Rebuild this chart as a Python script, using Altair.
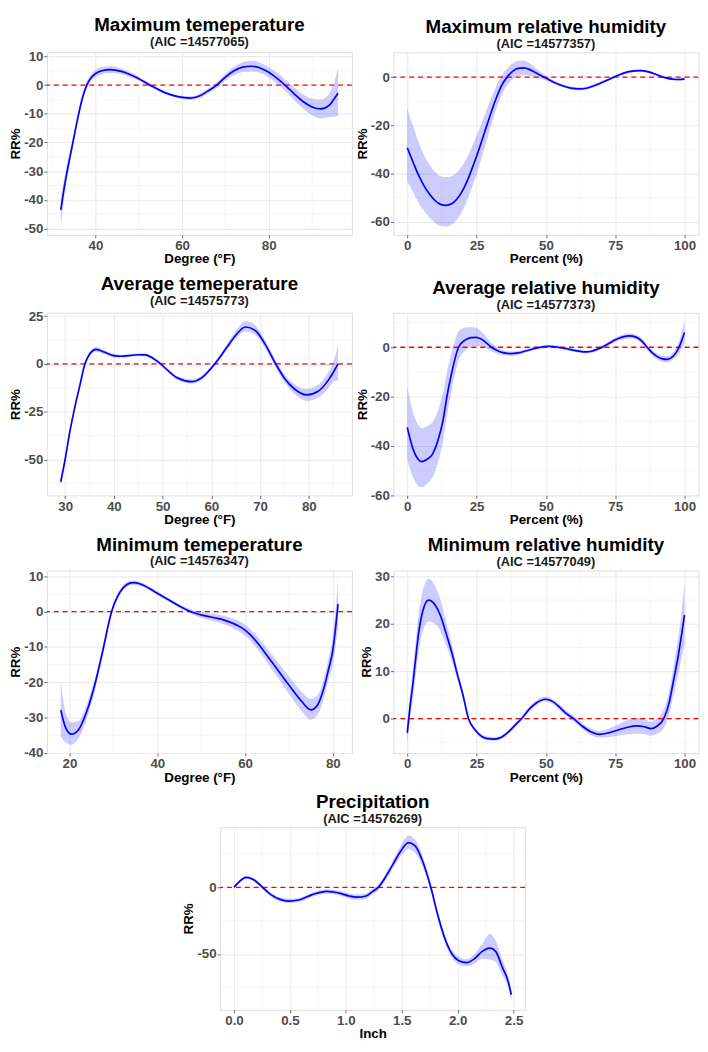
import altair as alt
import pandas as pd

FONT = "Liberation Sans"

# ---------------- Panel 1: Maximum temeperature ----------------
p1_x = [32, 33, 34, 35, 36, 37, 38, 39, 40, 41.5, 43.4, 46, 49, 52.6, 56, 59, 61.8, 64, 66, 68,
        70, 72, 74, 76, 78, 80, 82, 84, 86, 88, 90, 92, 94, 95, 96]
p1_y = [-43.5, -34, -26, -18.5, -11, -4.5, 0, 2.6, 4, 5, 5.4, 4.8, 3, 0, -2.6, -4, -4.5, -3.8, -2, 0,
        2.8, 5, 6.3, 6.6, 6, 4.5, 2.3, -0.3, -3.2, -5.8, -7.6, -8.3, -7, -5, -2.8]
p1_lo = [-49.3, -37.2, -28.3, -20.3, -12.4, -5.7, -1.1, 1.5, 2.8, 3.8, 4.2, 3.8, 2.2, -0.6, -3.1, -4.5, -5.1, -4.5, -2.8, -1.0,
         1.6, 3.5, 4.6, 4.8, 4.2, 2.7, 0.4, -2.3, -5.4, -8.3, -10.5, -11.6, -11.2, -11.0, -10.8]
p1_hi = [-39.5, -30.8, -23.7, -16.7, -9.6, -3.3, 1.1, 3.7, 5.2, 6.2, 6.6, 5.8, 3.8, 0.6, -2.1, -3.5, -3.9, -3.1, -1.2, 1.0,
         4.0, 6.5, 8.0, 8.6, 7.8, 6.3, 4.2, 1.7, -1.0, -3.3, -4.7, -5.0, -2.8, 0.5, 6.2]

# ---------------- Panel 2: Maximum relative humidity ----------------
p2_x = [0, 2, 4, 6, 8, 10, 12, 14, 16, 18, 20, 22, 24, 26, 28, 30, 32, 34, 36, 38, 40, 42, 44, 46, 48, 50,
        53, 56, 59, 62, 65, 68, 71, 74, 77, 80, 84, 87, 90, 93, 96, 98, 100]
p2_y = [-29.3, -35, -40.5, -45, -48.5, -51.2, -52.8, -53.2, -52.6, -50.5, -47, -42, -36, -29.5, -22.5, -15.5, -9, -3.5, 0,
        2.4, 3.6, 3.8, 3.2, 2, 0.8, -0.4, -2.2, -3.6, -4.6, -4.9, -4.5, -3.3, -1.8, -0.3, 1.2, 2.3, 2.7, 2.2, 1, -0.2,
        -0.9, -1, -0.7]
p2_lo = [-43.2, -47.5, -52, -55.5, -58.3, -60.4, -61.7, -62, -61.3, -59, -55.3, -50, -43.7, -36.7, -29, -21.1, -13.8, -7.5,
         -3.5, -0.8, 0.5, 0.8, 0.6, 0, -0.6, -1.4, -2.9, -4.2, -5.2, -5.5, -5.1, -3.9, -2.4, -0.9, 0.7, 1.8, 2.2, 1.7, 0.5,
         -0.7, -1.4, -1.5, -1.2]
p2_hi = [-13, -20, -26.7, -32.2, -36.3, -39.4, -41.1, -41.5, -41.1, -39.5, -36.5, -32.2, -27, -21.5, -15.5, -9.5, -4, 0.7,
         3.6, 5.7, 6.8, 6.9, 5.9, 4, 2.2, 0.6, -1.5, -3, -4, -4.3, -3.9, -2.7, -1.2, 0.3, 1.7, 2.8, 3.2, 2.7, 1.5, 0.3,
         -0.4, -0.5, -0.2]

# ---------------- Panel 3: Average temeperature ----------------
p3_x = [29.1, 30, 31, 32, 33, 34, 35, 36.4, 38, 40, 41.5, 43, 45, 46.5, 48, 49.6, 51, 53, 55.9, 58, 60.7, 63, 65, 67,
        69, 71, 73.2, 75, 77, 79.6, 82, 84, 85, 86]
p3_y = [-61.7, -50, -35, -22.5, -11.5, -0.5, 5, 7.6, 6.2, 4.3, 4, 4.3, 4.8, 4.7, 3, 0, -3.3, -7.3, -9.3, -7.3, 0, 8, 15,
        19.3, 17.5, 10.5, 0, -7.5, -13, -16.2, -14.2, -8.5, -4.5, 0]
p3_lo = [-64.5, -52, -36.6, -23.6, -12.4, -1.6, 3.8, 6.3, 5.2, 3.4, 3.2, 3.5, 4, 3.9, 2.2, -0.8, -4.1, -8.2, -10.4, -8.4,
         -1.1, 6.5, 13.1, 17, 15.3, 8.5, -1.9, -9.6, -15.5, -19.4, -17.6, -12.7, -9.5, -8.5]
p3_hi = [-59, -48, -33.4, -21.4, -10.6, 0.6, 6.2, 8.9, 7.2, 5.2, 4.8, 5.1, 5.6, 5.5, 3.8, 0.8, -2.5, -6.4, -8.2, -6.2,
         1.1, 9.5, 17.2, 22.4, 20.2, 12.5, 1.9, -5.4, -10.5, -13, -10.8, -4.3, 0.7, 9.7]

# ---------------- Panel 4: Average relative humidity ----------------
p4_x = [0, 2, 4, 5.3, 7, 9, 11, 13, 14.3, 16, 18.5, 21, 23, 24.8, 26.5, 28.5, 30.4, 33, 35, 37.4, 40, 43, 46, 48.5,
        50.9, 54, 57, 60, 62, 64.3, 66.5, 68.5, 70.2, 72.5, 75, 77.5, 80.1, 82.5, 84.5, 86.5, 88.5, 90.5, 92, 93.6,
        95, 96.5, 98, 99, 100]
p4_y = [-32.5, -41, -45.5, -46.4, -45.5, -43.5, -38, -29, -20, -10.5, 0, 3, 3.9, 4.0, 3.4, 1.8, 0, -1.6, -2.3, -2.6,
        -2.3, -1.4, -0.5, 0.1, 0.4, 0.1, -0.5, -1.2, -1.6, -1.9, -1.6, -0.8, 0, 1.4, 3, 4.1, 4.6, 4.1, 2.6, 0, -2.4,
        -4, -4.7, -4.9, -4.4, -2.8, 0, 2.8, 6.0]
p4_lo = [-45.4, -52.5, -56.3, -56.7, -55.5, -53, -47, -37.3, -27.8, -17.5, -5.5, -1.3, 0.3, 0.5, 0.4, -0.4, -1.7, -2.8,
         -3.3, -3.5, -3.1, -2.0, -1.1, -0.5, -0.2, -0.5, -1.1, -1.8, -2.2, -2.5, -2.2, -1.5, -0.7, 0.6, 2.1, 3.1, 3.6,
         3.1, 1.6, -1, -3.5, -5.1, -5.9, -6.1, -5.7, -4.3, -2.3, -0.4, 1.7]
p4_hi = [-15.9, -26, -31.5, -32.8, -32.1, -30.5, -25.8, -18, -10, -2, 6.5, 8, 8.1, 7.9, 6.6, 4.2, 1.8, -0.4, -1.3,
         -1.7, -1.5, -0.8, 0.1, 0.7, 1.0, 0.7, 0.1, -0.6, -1.0, -1.3, -1.0, -0.1, 0.7, 2.2, 3.9, 5.1, 5.6, 5.1, 3.6, 1,
         -1.3, -2.9, -3.5, -3.7, -3.1, -1.3, 2.3, 6, 10.6]

# ---------------- Panel 5: Minimum temeperature ----------------
p5_x = [18, 19, 20.4, 22, 24, 25.8, 27.5, 29.6, 31.5, 33, 34.5, 36, 38, 40, 42.5, 45, 46.9, 49, 51, 54, 57, 59, 61,
        63, 65, 67.5, 70, 72.5, 75, 76.5, 78, 79, 80, 80.6, 81.2]
p5_y = [-27.9, -32.5, -34.7, -33.5, -28, -20.5, -11.5, 0, 5.5, 7.6, 8.2, 7.9, 6.7, 5.2, 3.4, 1.6, 0.4, -0.6, -1.2,
        -2.0, -3.2, -4.4, -6.3, -9.1, -12.4, -16.6, -20.8, -24.8, -27.8, -26.5, -21.5, -16.5, -11, -5, 2.1]
p5_lo = [-35.2, -37, -37.7, -36, -30, -22.1, -12.7, -1, 4.7, 6.9, 7.6, 7.3, 6.2, 4.7, 2.9, 1.1, -0.2, -1.3, -2.1,
         -3.1, -4.5, -5.9, -7.9, -10.9, -14.4, -18.8, -23.3, -27.5, -30.6, -29.3, -24.3, -19.5, -14.8, -10, -4.4]
p5_hi = [-19.5, -28, -31.4, -31, -26, -18.9, -10.3, 1, 6.3, 8.3, 8.8, 8.5, 7.2, 5.7, 3.9, 2.1, 1.0, 0.1, -0.3,
         -0.9, -1.9, -2.9, -4.7, -7.3, -10.4, -14.4, -18.3, -22.1, -24.7, -23.7, -18.7, -13.5, -7.2, 0, 9.3]

# ---------------- Panel 6: Minimum relative humidity ----------------
p6_x = [0, 1, 2, 3, 4, 5.5, 7.7, 10, 12, 14, 16, 18, 20, 22.1, 24.5, 27, 29, 31.4, 34, 36.5, 39, 41.2, 44, 46.5, 49.8,
        52.5, 55, 57.5, 60, 63, 66, 69.4, 72.5, 76, 79.5, 82.7, 85.5, 87.9, 90, 92.5, 94.5, 96, 97.5, 99, 100]
p6_y = [-3, 2.5, 7.2, 12.5, 17.6, 22.5, 25, 24, 21.7, 18, 14.1, 9.5, 5.2, 0, -2.4, -3.8, -4.2, -4.3, -3.9, -2.8, -1.3,
        0, 2, 3.3, 4.1, 3.6, 2.4, 1.0, 0, -1.5, -2.7, -3.3, -3, -2.4, -1.8, -1.5, -1.7, -2.1, -1.6, 0, 3.5, 8, 12.5,
        18, 21.9]
p6_lo = [-5.5, 0, 4.2, 9, 13.6, 18.2, 20.5, 20, 18.4, 15.5, 12.3, 8.3, 4.4, -0.5, -2.8, -4.2, -4.6, -4.7, -4.3, -3.2,
         -1.7, -0.4, 1.5, 2.8, 3.6, 3.1, 1.8, 0.4, -0.6, -2.1, -3.4, -4, -3.9, -3.6, -3.3, -3.2, -3.3, -3.6, -3.2, -2,
         1, 5, 8.7, 13, 15.5]
p6_hi = [-0.5, 5, 10.2, 16, 21.6, 26.8, 29.5, 28, 25, 20.5, 15.9, 10.7, 6, 0.5, -2, -3.4, -3.8, -3.9, -3.5, -2.4, -0.9,
         0.4, 2.5, 3.8, 4.6, 4.1, 3.0, 1.6, 0.6, -0.9, -2.0, -2.6, -2.1, -1.2, -0.3, 0.2, -0.1, -0.6, 0, 2, 6, 11, 16.3,
         23, 28.6]

# ---------------- Panel 7: Precipitation ----------------
p7_x = [0, 0.05, 0.11, 0.18, 0.255, 0.33, 0.41, 0.49, 0.58, 0.7, 0.83, 0.95, 1.03, 1.1, 1.18, 1.24, 1.29, 1.35, 1.42,
        1.49, 1.56, 1.62, 1.68, 1.76, 1.82, 1.88, 1.95, 2.01, 2.08, 2.15, 2.22, 2.29, 2.34, 2.4, 2.45, 2.48]
p7_y = [0, 4.5, 7.4, 5.5, 0, -5.5, -9, -10.3, -9.5, -5.5, -3, -4.5, -6.5, -7.4, -6.5, -3, 0, 7, 17, 27, 33.5, 31, 21,
        0, -20, -37, -50, -55, -56.4, -53.5, -48, -45.6, -48, -60, -70, -80.5]
p7_lo = [-0.8, 3.4, 6.2, 4.2, -1.4, -7, -10.5, -11.8, -11, -7, -4.6, -6.2, -8.4, -9.4, -8.5, -5, -2.1, 4.6, 14, 23.2,
         28.6, 26, 17, -3, -23, -40, -52.8, -57.8, -59.1, -57, -53.5, -54, -56, -66, -74.5, -85.5]
p7_hi = [0.8, 5.6, 8.6, 6.8, 1.4, -4, -7.5, -8.8, -8, -4, -1.4, -2.8, -4.6, -5.4, -4.5, -1, 2.1, 9.4, 20, 30.8, 38.9,
         36, 25, 3, -17, -34, -47.2, -52.2, -53.7, -50, -42.5, -35, -40, -54, -65.5, -77]

# tick label values
deg_ticks_max = [40, 60, 80]
deg_ticks_avg = [30, 40, 50, 60, 70, 80]
deg_ticks_min = [20, 40, 60, 80]
pct_ticks = [0, 25, 50, 75, 100]
inch_ticks = [0.0, 0.5, 1.0, 1.5, 2.0, 2.5]
y1_ticks = [-50, -40, -30, -20, -10, 0, 10]
y2_ticks = [-60, -40, -20, 0]
y3_ticks = [-50, -25, 0, 25]
y4_ticks = [-60, -40, -20, 0]
y5_ticks = [-40, -30, -20, -10, 0, 10]
y6_ticks = [0, 10, 20, 30]
y7_ticks = [-50, 0]

W, H = 309, 185
HGAP, VGAP = 42, 8


def minors(maj, dom):
    step = maj[1] - maj[0]
    cands = [maj[0] - step / 2] + [(a + b) / 2 for a, b in zip(maj[:-1], maj[1:])] + [maj[-1] + step / 2]
    return [c for c in cands if dom[0] <= c <= dom[1]]


def panel(title, aic, xs, ys, lo, hi, xtitle, xmaj, ymaj, xfmt=None):
    df = pd.DataFrame({"x": xs, "y": ys, "lo": lo, "hi": hi})
    xe = (max(xs) - min(xs)) * 0.05
    ye = (max(hi) - min(lo)) * 0.05
    xdom = [min(xs) - xe, max(xs) + xe]
    ydom = [min(lo) - ye, max(hi) + ye]
    xsc = alt.Scale(domain=xdom, nice=False, zero=False)
    ysc = alt.Scale(domain=ydom, nice=False, zero=False)
    common = dict(grid=True, gridColor="#EBEBEB", gridWidth=1.1, domain=False, ticks=True,
                  tickColor="#666666", tickSize=3, labelFont=FONT, labelFontSize=13.5,
                  labelFontWeight="bold", labelColor="#4D4D4D", titleFont=FONT, titleFontSize=13.5,
                  titleFontWeight="bold", titleColor="#000000", labelPadding=1)
    xkw = dict(values=xmaj, title=xtitle, titlePadding=0, labelFlush=False, **common)
    if xfmt:
        xkw["format"] = xfmt
    else:
        xkw["labelExpr"] = "datum.value + ''"
    xax = alt.Axis(**xkw)
    yax = alt.Axis(values=ymaj, title="RR%", titlePadding=1, labelExpr="datum.value + ''", **common)

    mx = pd.DataFrame({"x": minors(xmaj, xdom)})
    my = pd.DataFrame({"y": minors(ymaj, ydom)})
    zero = pd.DataFrame({"y": [0]})

    gx = alt.Chart(mx).mark_rule(color="#F3F3F3", strokeWidth=0.7).encode(
        x=alt.X("x:Q", scale=xsc, axis=xax))
    gy = alt.Chart(my).mark_rule(color="#F3F3F3", strokeWidth=0.7).encode(
        y=alt.Y("y:Q", scale=ysc, axis=yax))
    band = alt.Chart(df).mark_area(color="#0000FF", opacity=0.2, interpolate="monotone").encode(
        x=alt.X("x:Q", scale=xsc, axis=xax),
        y=alt.Y("lo:Q", scale=ysc, axis=yax),
        y2="hi:Q")
    hline = alt.Chart(zero).mark_rule(color="#FF0000", strokeWidth=1.4, strokeDash=[5, 4]).encode(
        y=alt.Y("y:Q", scale=ysc, axis=yax))
    line = alt.Chart(df).mark_line(color="#0000FF", strokeWidth=1.7, interpolate="monotone").encode(
        x=alt.X("x:Q", scale=xsc, axis=xax),
        y=alt.Y("y:Q", scale=ysc, axis=yax))
    return alt.layer(gx, gy, band, hline, line).properties(
        width=W, height=H,
        title=alt.TitleParams(text=title, subtitle=aic, font=FONT, fontSize=19, fontWeight="bold",
                              color="#000000", subtitleFont=FONT, subtitleFontSize=13,
                              subtitleFontWeight="bold", subtitleColor="#1A1A1A", subtitlePadding=1,
                              anchor="middle", frame="group", offset=1))


c1 = panel("Maximum temeperature", "(AIC =14577065)", p1_x, p1_y, p1_lo, p1_hi, "Degree (°F)", deg_ticks_max, y1_ticks)
c2 = panel("Maximum relative humidity", "(AIC =14577357)", p2_x, p2_y, p2_lo, p2_hi, "Percent (%)", pct_ticks, y2_ticks)
c3 = panel("Average temeperature", "(AIC =14575773)", p3_x, p3_y, p3_lo, p3_hi, "Degree (°F)", deg_ticks_avg, y3_ticks)
c4 = panel("Average relative humidity", "(AIC =14577373)", p4_x, p4_y, p4_lo, p4_hi, "Percent (%)", pct_ticks, y4_ticks)
c5 = panel("Minimum temeperature", "(AIC =14576347)", p5_x, p5_y, p5_lo, p5_hi, "Degree (°F)", deg_ticks_min, y5_ticks)
c6 = panel("Minimum relative humidity", "(AIC =14577049)", p6_x, p6_y, p6_lo, p6_hi, "Percent (%)", pct_ticks, y6_ticks)
c7 = panel("Precipitation", "(AIC =14576269)", p7_x, p7_y, p7_lo, p7_hi, "Inch", inch_ticks, y7_ticks, xfmt=".1f")

row1 = alt.hconcat(c1, c2, spacing=HGAP, bounds="flush")
row2 = alt.hconcat(c3, c4, spacing=HGAP, bounds="flush")
row3 = alt.hconcat(c5, c6, spacing=HGAP, bounds="flush")

chart = alt.vconcat(row1, row2, row3, c7, spacing=VGAP, center=True).configure_view(
    stroke="#8C8C8C", strokeWidth=1
).configure(font=FONT, background="white").properties(
    padding={"left": 0, "top": 0, "right": 0, "bottom": 0}
)

chart.save("out.html", embed_options={"renderer": "svg", "actions": False})
